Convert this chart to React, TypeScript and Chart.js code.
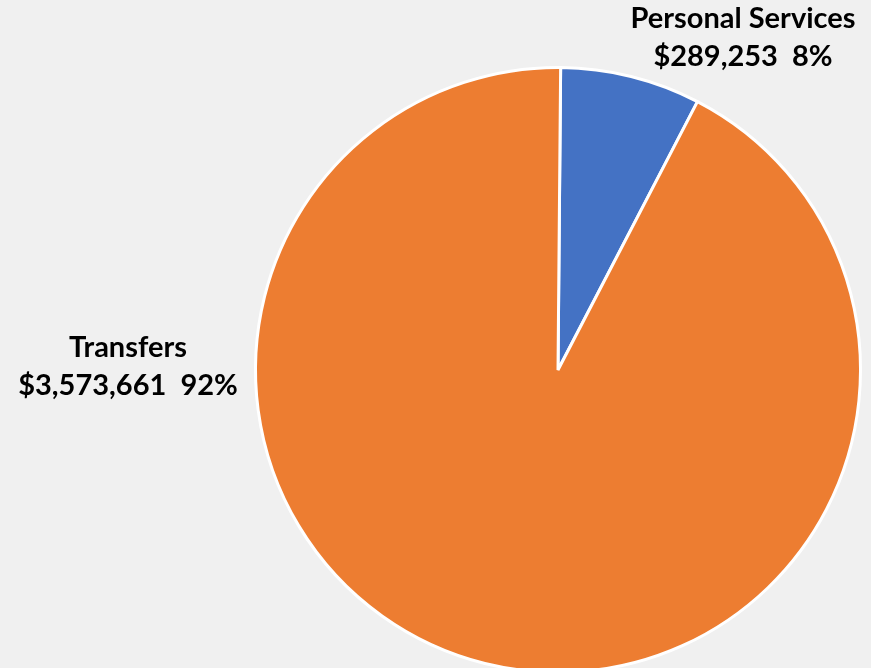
import React, { useEffect, useRef } from "react";
import { Chart, registerables } from "chart.js";

Chart.register(...registerables);

const categories = ["Personal Services", "Transfers"];
const amounts = [289253, 3573661];
const percentLabels = ["8%", "92%"];
const colors = ["#4472C4", "#ED7D31"];

const fmt = (v: number) => "$" + v.toLocaleString("en-US");

export default function App() {
  const ref = useRef<HTMLCanvasElement | null>(null);
  useEffect(() => {
    document.body.style.margin = "0";
    document.body.style.background = "#f0f0f0";
    document.body.style.overflow = "hidden";
    const canvas = ref.current!;
    const labelPlugin = {
      id: "outerLabels",
      afterDraw(chart: any) {
        const ctx = chart.ctx;
        const meta = chart.getDatasetMeta(0);
        ctx.save();
        ctx.fillStyle = "#000";
        ctx.font = "bold 29px Lato";
        ctx.textAlign = "center";
        ctx.textBaseline = "middle";
        const positions = [
          { x: 743, y: 19 },
          { x: 128, y: 348 },
        ];
        meta.data.forEach((_arc: any, i: number) => {
          const p = positions[i];
          ctx.fillText(categories[i], p.x, p.y);
          ctx.fillText(fmt(amounts[i]) + "  " + percentLabels[i], p.x, p.y + 38);
        });
        ctx.restore();
      },
    };
    const chart = new Chart(canvas, {
      type: "pie",
      data: {
        labels: categories,
        datasets: [
          {
            data: amounts,
            backgroundColor: colors,
            borderColor: "#ffffff",
            borderWidth: 3,
          },
        ],
      },
      options: {
        responsive: false,
        animation: false,
        rotation: 0.5,
        layout: { padding: { left: 254, right: 9, top: 66, bottom: 6 } },
        plugins: {
          legend: { display: false },
          tooltip: { enabled: false },
        },
      },
      plugins: [labelPlugin],
    });
    return () => chart.destroy();
  }, []);
  return (
    <div style={{ width: 871, height: 668, overflow: "hidden", background: "#f0f0f0" }}>
      <canvas ref={ref} width={871} height={680} style={{ display: "block" }} />
    </div>
  );
}
